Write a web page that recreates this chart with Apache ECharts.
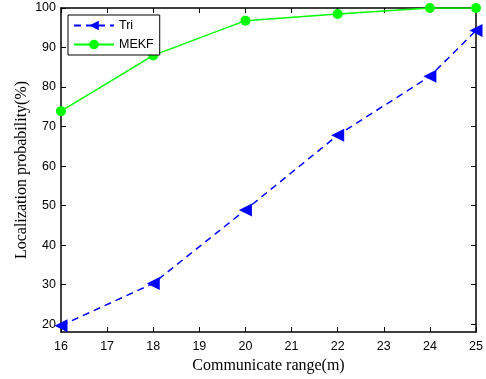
<!DOCTYPE html>
<html>
<head>
<meta charset="utf-8">
<script src="https://cdn.jsdelivr.net/npm/echarts@6/dist/echarts.min.js"></script>
<style>
  html, body { margin: 0; padding: 0; background: #fff; }
  #chart { width: 486px; height: 379px; }
</style>
</head>
<body>
<div id="chart"></div>
<script>
// Communicate range (m) and localization probability (%) per method
const ranges = [16, 18, 20, 22, 24, 25];
const triValues = [19.6, 30.3, 48.9, 67.8, 82.7, 94.3];
const mekfValues = [73.9, 88.0, 96.8, 98.5, 100, 100];
const xTicks = [16, 17, 18, 19, 20, 21, 22, 23, 24, 25];
const yTicks = [20, 30, 40, 50, 60, 70, 80, 90, 100];

const pairs = (xs, ys) => xs.map((x, i) => [x, ys[i]]);

const tickFont = { fontFamily: 'Liberation Sans, Arial, sans-serif', fontSize: 12.5, color: '#000' };
const axisLineStyle = { color: '#000', width: 1.5 };

const chart = echarts.init(document.getElementById('chart'));
chart.setOption({
  animation: false,
  backgroundColor: '#fff',
  grid: { left: 61, right: 10, top: 8, bottom: 45, containLabel: false },
  legend: {
    left: 68, top: 15, orient: 'vertical',
    backgroundColor: '#fff', borderColor: '#000', borderWidth: 1,
    padding: [4, 6, 4, 5], itemGap: 6, itemWidth: 40, itemHeight: 12,
    textStyle: { fontFamily: 'Liberation Sans, Arial, sans-serif', fontSize: 12.5, color: '#000' },
    data: ['Tri', 'MEKF']
  },
  xAxis: [{
    type: 'value', min: 16, max: 25, interval: 1,
    name: 'Communicate range(m)', nameLocation: 'middle', nameGap: 26,
    nameTextStyle: { fontFamily: 'Liberation Serif, Times New Roman, serif', fontSize: 16, color: '#000' },
    axisLine: { show: true, onZero: false, lineStyle: axisLineStyle },
    axisTick: { show: true, inside: true, length: 5, lineStyle: { color: '#000' }, customValues: xTicks },
    axisLabel: { ...tickFont, margin: 8, customValues: xTicks },
    splitLine: { show: false }
  }, {
    type: 'value', min: 16, max: 25, interval: 1, position: 'top',
    axisLine: { show: true, onZero: false, lineStyle: axisLineStyle },
    axisTick: { show: true, inside: true, length: 5, lineStyle: { color: '#000' }, customValues: xTicks },
    axisLabel: { show: false },
    splitLine: { show: false }
  }],
  yAxis: [{
    type: 'value', min: 18, max: 100,
    name: 'Localization probability(%)', nameLocation: 'middle', nameGap: 31,
    nameMoveOverlap: false,
    nameTextStyle: { fontFamily: 'Liberation Serif, Times New Roman, serif', fontSize: 16, color: '#000' },
    axisLine: { show: true, onZero: false, lineStyle: axisLineStyle },
    axisTick: { show: true, inside: true, length: 5, lineStyle: { color: '#000' }, customValues: yTicks },
    axisLabel: { ...tickFont, margin: 5, customValues: yTicks },
    splitLine: { show: false }
  }, {
    type: 'value', min: 18, max: 100, position: 'right',
    axisLine: { show: true, onZero: false, lineStyle: axisLineStyle },
    axisTick: { show: true, inside: true, length: 5, lineStyle: { color: '#000' }, customValues: yTicks },
    axisLabel: { show: false },
    splitLine: { show: false }
  }],
  series: [{
    name: 'Tri', type: 'line',
    data: pairs(ranges, triValues),
    symbol: 'triangle', symbolSize: 13, symbolRotate: 90,
    itemStyle: { color: '#0000ff' },
    lineStyle: { color: '#0000ff', width: 1.5, type: [7, 5] },
    z: 3
  }, {
    name: 'MEKF', type: 'line',
    data: pairs(ranges, mekfValues),
    symbol: 'circle', symbolSize: 10,
    itemStyle: { color: '#00ff00' },
    lineStyle: { color: '#00ff00', width: 1.5 },
    z: 3
  }]
});
</script>
</body>
</html>
